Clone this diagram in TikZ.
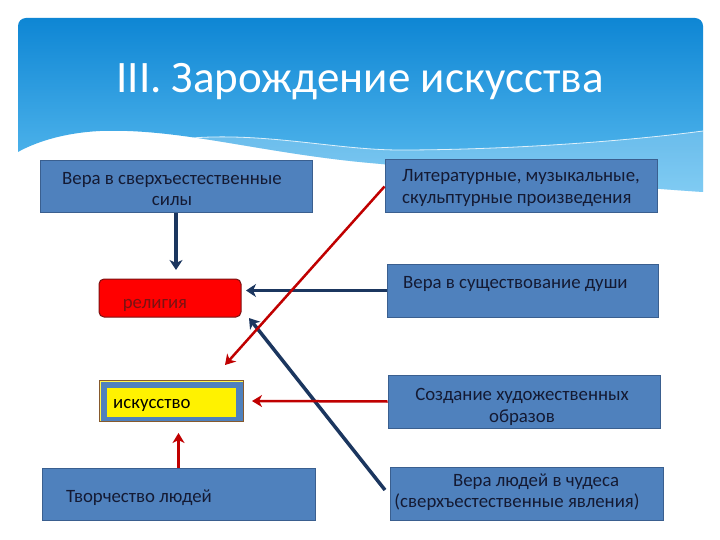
\documentclass[tikz,border=0pt]{standalone}
\usepackage{fontspec}
\setmainfont{Carlito}
\usetikzlibrary{arrows.meta}
\definecolor{boxblue}{HTML}{4F81BD}
\definecolor{boxedge}{HTML}{3A5F8F}
\definecolor{txt}{HTML}{141A33}
\definecolor{navyln}{HTML}{1B365F}
\definecolor{redln}{HTML}{C00000}
\definecolor{skytop}{HTML}{0E86D4}
\definecolor{skybot}{HTML}{5CBDF0}
\definecolor{relred}{HTML}{FF0000}
\definecolor{reltxt}{HTML}{7A1212}
\tikzset{
  bbox/.style={draw=boxedge, fill=boxblue, line width=1pt, minimum width=272pt, minimum height=52pt, inner sep=0pt},
  btxt/.style={font=\fontsize{18.8}{21.5}\selectfont, text=txt, inner sep=0pt, align=center},
  navyA/.style={draw=navyln, line width=3.5pt, -{Stealth[length=10pt,width=13pt,inset=3pt]}},
  redA/.style={draw=redln, line width=2.5pt, -{Stealth[length=10pt,width=12pt,inset=3pt]}}
}
\begin{document}
\begin{tikzpicture}[x=1pt,y=-1pt]
\useasboundingbox (0,0) rectangle (720,540);
\fill[white] (0,0) rectangle (720,540);
% header panel
\shade[top color=skytop, bottom color=skybot]
  (18,152) [rounded corners=8pt] -- (18,18) -- (703,18) [sharp corners] -- (703,192)
  .. controls (610,186) and (470,172) .. (370,163)
  .. controls (260,153) and (180,128) .. (100,131)
  .. controls (60,133) and (32,144) .. (18,152) -- cycle;
% lighter band
\begin{scope}
\clip (18,152) -- (18,18) -- (703,18) -- (703,192)
  .. controls (610,186) and (470,172) .. (370,163)
  .. controls (260,153) and (180,128) .. (100,131)
  .. controls (60,133) and (32,144) .. (18,152) -- cycle;
\fill[white, opacity=0.22] (165,141) .. controls (250,128) and (330,150) .. (400,150)
  .. controls (500,150) and (620,142) .. (703,131) -- (703,200) -- (165,200) -- cycle;
\draw[white, line width=0.8pt, opacity=0.8] (165,141) .. controls (250,128) and (330,150) .. (400,150)
  .. controls (500,150) and (620,142) .. (703,131);
\end{scope}
\node[font=\fontsize{45}{50}\selectfont, text=white, anchor=base] (title) at (360,93) {III. Зарождение искусства};

% left boxes
\node[bbox] (b1) at (176,187) {};
\node[btxt] (t1) at (172,189) {Вера в сверхъестественные\\силы};
\node[draw=reltxt, fill=relred, line width=1pt, rounded corners=5pt, minimum width=142pt, minimum height=38pt, inner sep=0pt] (rel) at (170,298) {};
\node[font=\fontsize{18.8}{21}\selectfont, text=reltxt, inner sep=0pt, anchor=base] (trel) at (155,308) {религия};
\node[draw=yellow!70!white, line width=0.8pt, fill=boxblue, minimum width=143pt, minimum height=40pt, inner sep=0pt] (art) at (171.5,401) {};
\draw[draw=brown!70!black, line width=0.8pt] (art.north west) rectangle (art.south east);
\fill[yellow] (107,388) rectangle (236,417);
\node[font=\fontsize{18.8}{21}\selectfont, text=black, inner sep=0pt, anchor=base west] (tart) at (113,408) {искусство};
\node[bbox, minimum width=273pt] (b4) at (178.5,494) {};
\node[font=\fontsize{18.8}{21}\selectfont, text=txt, inner sep=0pt, anchor=base west] (t4) at (66,502) {Творчество людей};

% right boxes
\node[bbox, minimum height=53pt] (b5) at (521,186.5) {};
\node[btxt, align=left, anchor=west] (t5) at (402,188) {Литературные, музыкальные,\\скульптурные произведения};
\node[bbox, minimum width=271pt, minimum height=53pt] (b6) at (522.5,290.5) {};
\node[font=\fontsize{18.8}{21}\selectfont, text=txt, inner sep=0pt, anchor=base west] (t6) at (403,288) {Вера в существование души};
\node[bbox, minimum height=53pt] (b7) at (524,401.5) {};
\node[btxt] (t7) at (522,407) {Создание художественных\\образов};
\node[bbox, minimum width=273pt, minimum height=53pt] (b8) at (526.5,493.5) {};
\node[btxt] (t8) at (517,492) {\hspace*{38pt}Вера людей в чудеса\\(сверхъестественные явления)};

% connectors
\coordinate (r1end) at (225,365);
\draw[navyA] (b1.south) -- (b1.south |- 176,270);
\draw[navyA] (b6.west) -- (246,290.5);
\draw[navyA] (385,490) -- (249,318);
\draw[redA] (b5.west) -- (r1end);
\draw[redA] (b7.west) -- (252,401);
\draw[redA] (b4.north) -- (178.5,433);
\end{tikzpicture}
\end{document}
